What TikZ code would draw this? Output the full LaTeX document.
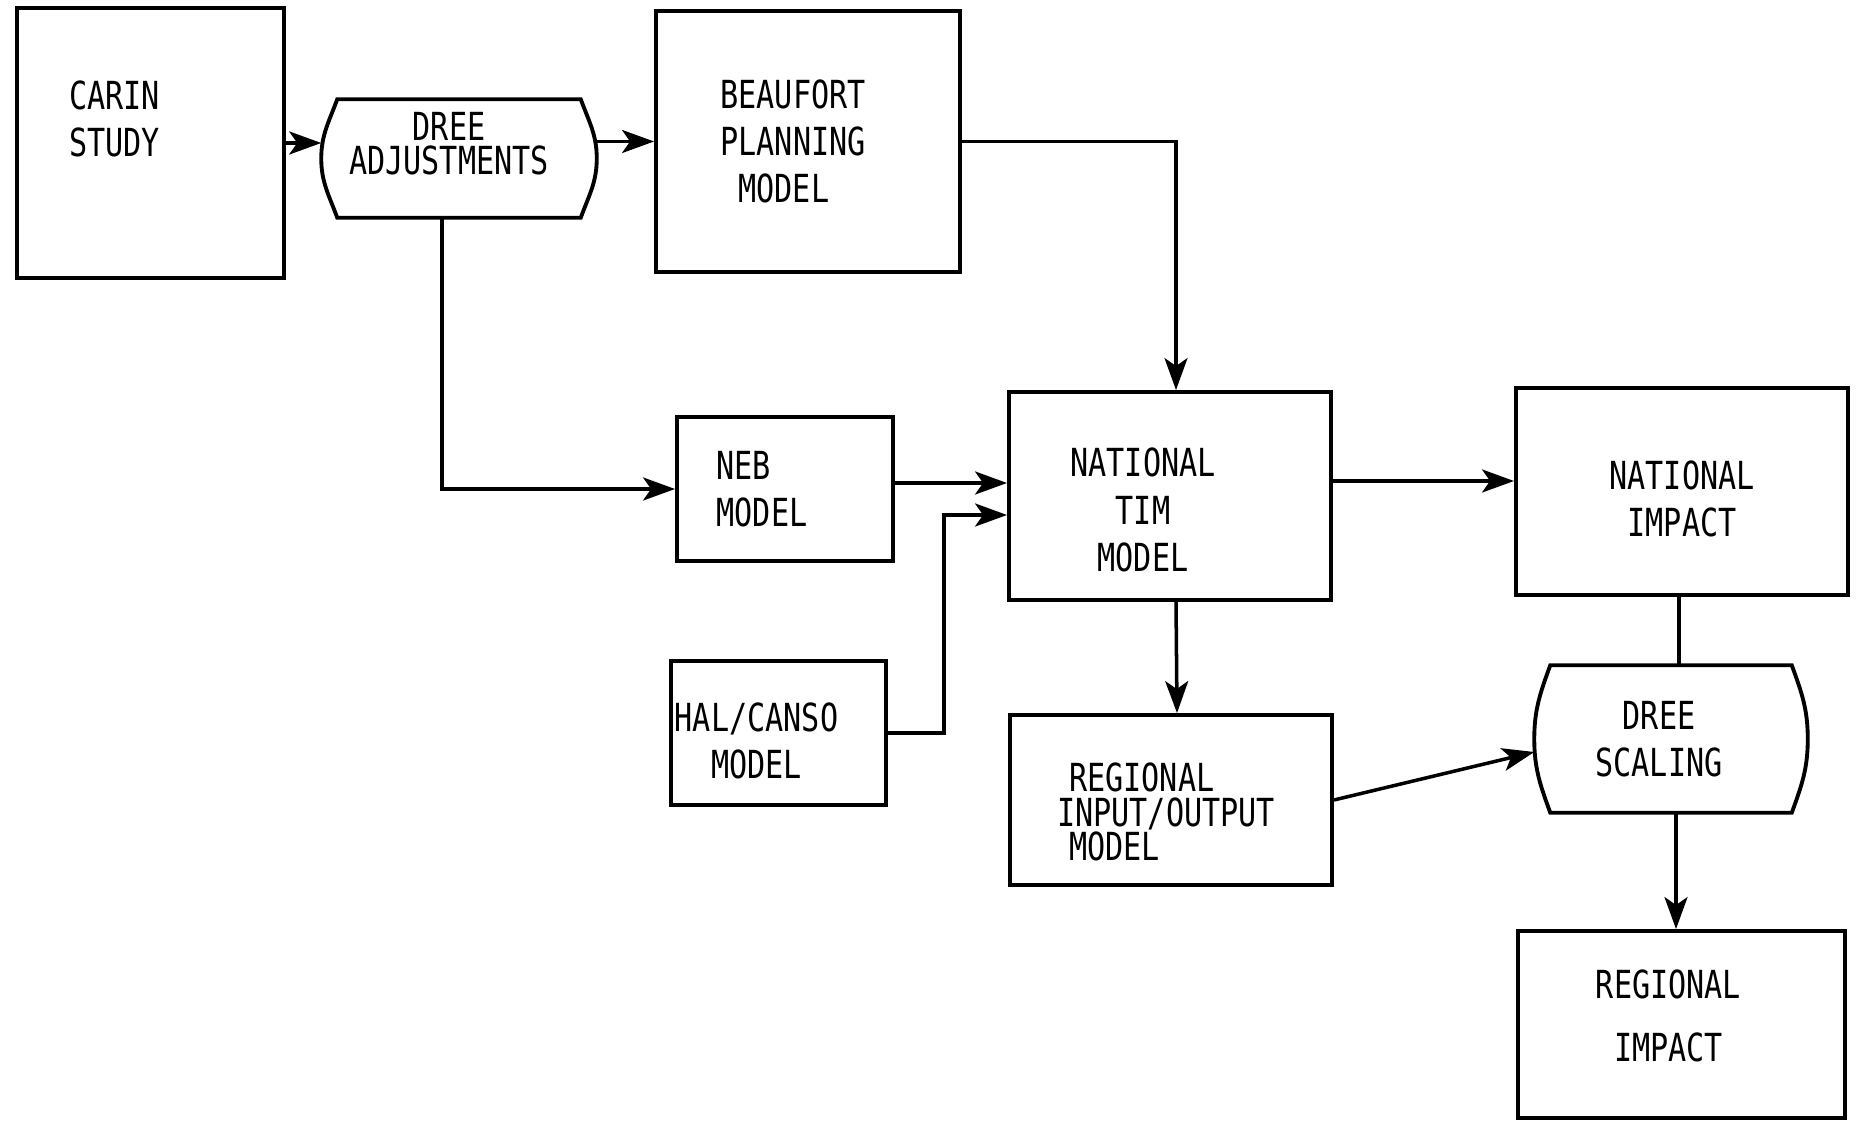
\documentclass[tikz,border=0pt]{standalone}
\usepackage{fontspec}
\newfontfamily\mono[FakeStretch=0.78]{DejaVu Sans Mono}
\usetikzlibrary{arrows.meta}

\begin{document}
\begin{tikzpicture}[
  box/.style={draw, line width=1.1pt, inner sep=0pt},
  dree/.style={inner sep=0pt},
  txt/.style={font={\mono\fontsize{11}{13.4}\selectfont}, align=center, inner sep=0pt},
  tight/.style={font={\mono\fontsize{11}{9.8}\selectfont\lineskiplimit=-6pt}},
  arr/.style={-{Stealth[length=0.32cm,width=0.23cm,inset=0.08cm]}, line width=1pt},
  line width=1pt
]
\useasboundingbox (0,0) rectangle (18.57,11.2);

\node[box, minimum width=2.67cm, minimum height=2.70cm,
  label={[txt,align=left,xshift=-0.36cm,yshift=0.24cm]center:CARIN\\STUDY}] (carin) at (1.505,9.77) {};
\node[dree, minimum width=2.72cm, minimum height=1.15cm,
  label={[txt,tight,xshift=-0.10cm,yshift=0.15cm]center:DREE\\ADJUSTMENTS}] (adj) at (4.59,9.615) {};
\node[box, minimum width=3.04cm, minimum height=2.61cm,
  label={[txt,align=left,xshift=-0.15cm]center:BEAUFORT\\PLANNING\\\hspace*{0.18cm}MODEL}] (beau) at (8.08,9.785) {};

\node[box, minimum width=2.16cm, minimum height=1.44cm,
  label={[txt,align=left,xshift=-0.23cm]center:NEB\\MODEL}] (neb) at (7.85,6.31) {};
\node[box, minimum width=2.15cm, minimum height=1.44cm,
  label={[txt,xshift=-0.22cm,yshift=-0.08cm]center:HAL/CANSO\\MODEL}] (hal) at (7.785,3.87) {};

\node[box, minimum width=3.22cm, minimum height=2.08cm,
  label={[txt,xshift=-0.27cm,yshift=-0.14cm]center:NATIONAL\\TIM\\MODEL}] (tim) at (11.70,6.24) {};
\node[box, minimum width=3.22cm, minimum height=1.70cm,
  label={[txt,tight,align=left,xshift=-0.05cm,yshift=-0.12cm]center:\hspace*{0.12cm}REGIONAL\\INPUT/OUTPUT\\\hspace*{0.12cm}MODEL}] (rio) at (11.71,3.20) {};

\node[box, minimum width=3.32cm, minimum height=2.07cm,
  label={[txt,yshift=-0.07cm]center:NATIONAL\\IMPACT}] (nimp) at (16.82,6.285) {};
\node[dree, minimum width=2.70cm, minimum height=1.44cm,
  label={[txt,xshift=-0.12cm]center:DREE\\SCALING}] (scal) at (16.71,3.81) {};
\node[box, minimum width=3.27cm, minimum height=1.87cm,
  label={[txt,xshift=-0.13cm,yshift=0.09cm]center:REGIONAL\\[0.16cm]IMPACT}] (rimp) at (16.815,0.955) {};

% curved-side outline of the DREE blocks
\foreach \n in {adj,scal}
  \draw[line width=1.1pt] ([xshift=0.16cm]\n.north west) -- ([xshift=-0.16cm]\n.north east)
    to[out=-70,in=90] (\n.east) to[out=-90,in=70] ([xshift=-0.16cm]\n.south east)
    -- ([xshift=0.16cm]\n.south west) to[out=110,in=-90] (\n.west)
    to[out=90,in=-110] ([xshift=0.16cm]\n.north west) -- cycle;

\draw[arr] (carin.east) -- (carin.east -| adj.west);
\draw[arr] (adj.east |- beau.west) -- (beau.west);
\draw[arr] (beau.east) -| ([xshift=0.06cm]tim.north);
\draw[arr] ([xshift=-0.17cm]adj.south) |- (neb.west);

\draw[arr] ([yshift=0.06cm]neb.east) -- ([yshift=0.06cm]neb.east -| tim.west);
\draw[arr] (hal.east) -- ++(0.56,0) |- ([yshift=-0.19cm]tim.west);
\draw[arr] ([xshift=0.06cm]tim.south) -- ([xshift=0.06cm]rio.north);
\draw[arr] ([yshift=0.15cm]tim.east) -- ([yshift=0.15cm]tim.east -| nimp.west);

\draw (nimp.south -| scal.north) ++(0.08,0) coordinate (nb) -- (nb |- scal.north);
\draw[arr] (rio.east) -- ([yshift=-0.13cm]scal.west);
\draw[arr] ([xshift=0.05cm]scal.south) -- ([xshift=0.05cm]scal.south |- rimp.north);
\end{tikzpicture}
\end{document}
